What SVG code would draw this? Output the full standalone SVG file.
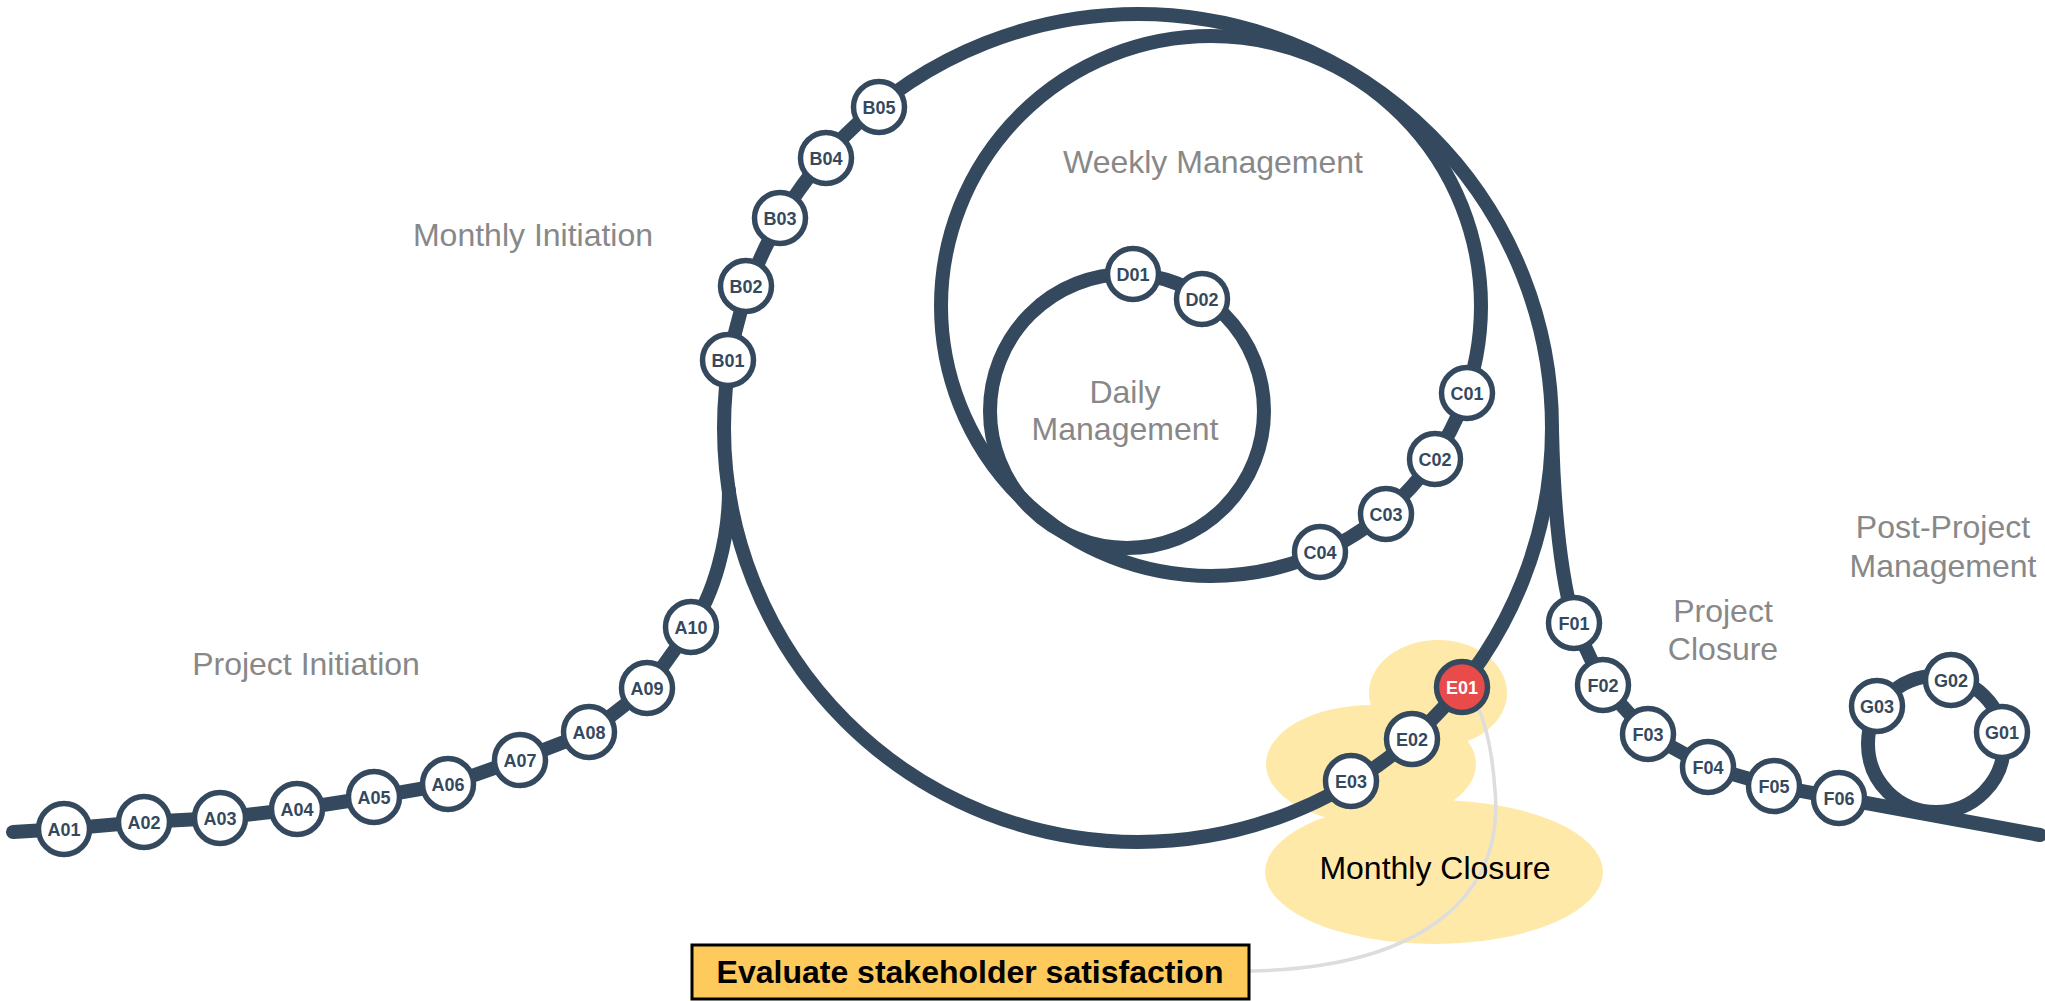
<svg xmlns="http://www.w3.org/2000/svg" width="2045" height="1001" viewBox="0 0 2045 1001">
<style>
.track{fill:none;stroke:#34495E;stroke-width:14;stroke-linecap:round;stroke-linejoin:round}
.node circle{fill:#fff;stroke:#34495E;stroke-width:5.5}
.node text{font-family:"Liberation Sans",Arial,sans-serif;font-weight:bold;font-size:18px;fill:#34495E;text-anchor:middle}
.node.active circle{fill:#E94B4A}
.node.active text{fill:#fff}
.phase{font-family:"Liberation Sans",Arial,sans-serif;font-size:32px;fill:#888;text-anchor:middle}
.blob{fill:#FFE9A8}
</style>
<rect width="2045" height="1001" fill="#fff"/>
<g id="monthly-closure-area">
<ellipse class="blob" cx="1434" cy="872" rx="169" ry="72"/>
<ellipse class="blob" cx="1371" cy="764" rx="105" ry="59"/>
<ellipse class="blob" cx="1438" cy="693" rx="69" ry="53"/>
</g>
<g id="callout-line">
<path d="M1250 971 C1410 968 1505 905 1495 790 C1492 750 1487 728 1479 710" fill="none" stroke="#DDDDDD" stroke-width="3.5"/>
</g>
<g id="labels">
<text class="phase" x="306" y="675">Project Initiation</text>
<text class="phase" x="533" y="246">Monthly Initiation</text>
<text class="phase" x="1213" y="173">Weekly Management</text>
<text class="phase" x="1125" y="403">Daily</text>
<text class="phase" x="1125" y="440">Management</text>
<text class="phase" x="1723" y="622">Project</text>
<text class="phase" x="1723" y="660">Closure</text>
<text class="phase" x="1943" y="538">Post-Project</text>
<text class="phase" x="1943" y="577">Management</text>
<text x="1435" y="879" font-family="Liberation Sans,Arial,sans-serif" font-size="32" fill="#000" text-anchor="middle">Monthly Closure</text>
</g>
<g id="connectors">
<circle class="track" cx="1138" cy="428" r="414"/>
<circle class="track" cx="1211" cy="306" r="270"/>
<circle class="track" cx="1127" cy="411" r="137"/>
<path class="track" d="M13 832 L63 829 L143 822 L220 818 L297 809 L374 797 L449 784 L520 759 L590 732 L648 687 L691 627 C714 595 729 540 729 490"/>
<path class="track" d="M1552 430 C1554 520 1562 580 1574 623 L1603 685 L1648 734 L1708 767 L1774 786 L1839 798 L2040 835"/>
<circle class="track" cx="1936" cy="744" r="68"/>
</g>
<g id="nodes">
<g id="A01" class="node"><circle cx="64" cy="829" r="25.5"/><text x="64" y="835.5">A01</text></g>
<g id="A02" class="node"><circle cx="144" cy="822" r="25.5"/><text x="144" y="828.5">A02</text></g>
<g id="A03" class="node"><circle cx="220" cy="818" r="25.5"/><text x="220" y="824.5">A03</text></g>
<g id="A04" class="node"><circle cx="297" cy="809" r="25.5"/><text x="297" y="815.5">A04</text></g>
<g id="A05" class="node"><circle cx="374" cy="797" r="25.5"/><text x="374" y="803.5">A05</text></g>
<g id="A06" class="node"><circle cx="448" cy="784" r="25.5"/><text x="448" y="790.5">A06</text></g>
<g id="A07" class="node"><circle cx="520" cy="760" r="25.5"/><text x="520" y="766.5">A07</text></g>
<g id="A08" class="node"><circle cx="589" cy="732" r="25.5"/><text x="589" y="738.5">A08</text></g>
<g id="A09" class="node"><circle cx="647" cy="688" r="25.5"/><text x="647" y="694.5">A09</text></g>
<g id="A10" class="node"><circle cx="691" cy="627" r="25.5"/><text x="691" y="633.5">A10</text></g>
<g id="B01" class="node"><circle cx="728" cy="360" r="25.5"/><text x="728" y="366.5">B01</text></g>
<g id="B02" class="node"><circle cx="746" cy="286" r="25.5"/><text x="746" y="292.5">B02</text></g>
<g id="B03" class="node"><circle cx="780" cy="218" r="25.5"/><text x="780" y="224.5">B03</text></g>
<g id="B04" class="node"><circle cx="826" cy="158" r="25.5"/><text x="826" y="164.5">B04</text></g>
<g id="B05" class="node"><circle cx="879" cy="107" r="25.5"/><text x="879" y="113.5">B05</text></g>
<g id="D01" class="node"><circle cx="1133" cy="274" r="25.5"/><text x="1133" y="280.5">D01</text></g>
<g id="D02" class="node"><circle cx="1202" cy="299" r="25.5"/><text x="1202" y="305.5">D02</text></g>
<g id="C01" class="node"><circle cx="1467" cy="393" r="25.5"/><text x="1467" y="399.5">C01</text></g>
<g id="C02" class="node"><circle cx="1435" cy="459" r="25.5"/><text x="1435" y="465.5">C02</text></g>
<g id="C03" class="node"><circle cx="1386" cy="514" r="25.5"/><text x="1386" y="520.5">C03</text></g>
<g id="C04" class="node"><circle cx="1320" cy="552" r="25.5"/><text x="1320" y="558.5">C04</text></g>
<g id="E01" class="node active"><circle cx="1462" cy="687" r="25.5"/><text x="1462" y="693.5">E01</text></g>
<g id="E02" class="node"><circle cx="1412" cy="739" r="25.5"/><text x="1412" y="745.5">E02</text></g>
<g id="E03" class="node"><circle cx="1351" cy="781" r="25.5"/><text x="1351" y="787.5">E03</text></g>
<g id="F01" class="node"><circle cx="1574" cy="623" r="25.5"/><text x="1574" y="629.5">F01</text></g>
<g id="F02" class="node"><circle cx="1603" cy="685" r="25.5"/><text x="1603" y="691.5">F02</text></g>
<g id="F03" class="node"><circle cx="1648" cy="734" r="25.5"/><text x="1648" y="740.5">F03</text></g>
<g id="F04" class="node"><circle cx="1708" cy="767" r="25.5"/><text x="1708" y="773.5">F04</text></g>
<g id="F05" class="node"><circle cx="1774" cy="786" r="25.5"/><text x="1774" y="792.5">F05</text></g>
<g id="F06" class="node"><circle cx="1839" cy="798" r="25.5"/><text x="1839" y="804.5">F06</text></g>
<g id="G01" class="node"><circle cx="2002" cy="732" r="25.5"/><text x="2002" y="738.5">G01</text></g>
<g id="G02" class="node"><circle cx="1951" cy="680" r="25.5"/><text x="1951" y="686.5">G02</text></g>
<g id="G03" class="node"><circle cx="1877" cy="706" r="25.5"/><text x="1877" y="712.5">G03</text></g>
</g>
<g id="callout">
<rect x="692" y="945" width="557" height="54" fill="#FDCA5B" stroke="#000" stroke-width="3"/>
<text x="970" y="983" font-family="Liberation Sans,Arial,sans-serif" font-size="32" font-weight="bold" fill="#000" text-anchor="middle">Evaluate stakeholder satisfaction</text>
</g>
</svg>
